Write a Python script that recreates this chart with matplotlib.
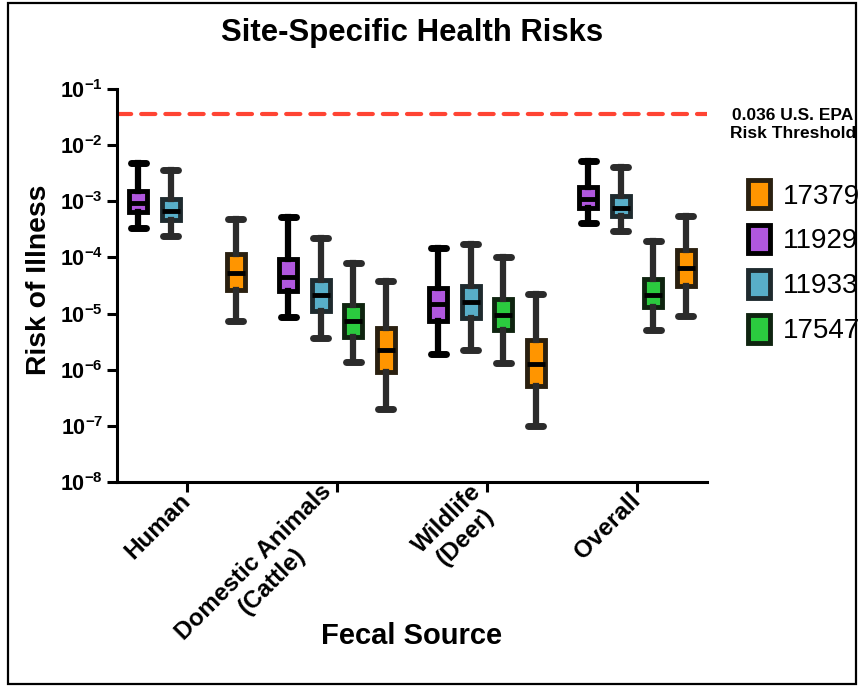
import matplotlib
matplotlib.use("Agg")
import matplotlib.pyplot as plt
import numpy as np
from matplotlib.patches import Patch, Rectangle
from matplotlib.ticker import NullLocator

plt.rcParams["font.family"] = ["Liberation Sans", "DejaVu Sans"]
plt.rcParams["mathtext.fontset"] = "custom"
plt.rcParams["mathtext.rm"] = "Liberation Sans"
plt.rcParams["mathtext.bf"] = "Liberation Sans:bold"

#%% Data: low whisker, q1, median, q3, high whisker
categories = ["Human", "Domestic Animals\n(Cattle)", "Wildlife\n(Deer)", "Overall"]
site_names = ["11929", "11933", "17547", "17379"]  # order inside each group
legend_order = ["17379", "11929", "11933", "17547"]

risk_11929 = [
    [3.4e-4, 6.4e-4, 9.2e-4, 1.5e-3, 4.9e-3],
    [8.6e-6, 2.5e-5, 4.5e-5, 9.2e-5, 5.2e-4],
    [1.9e-6, 7.4e-6, 1.5e-5, 2.9e-5, 1.45e-4],
    [4.1e-4, 7.6e-4, 1.08e-3, 1.8e-3, 5.3e-3],
]
risk_11933 = [
    [2.4e-4, 4.7e-4, 6.7e-4, 1.08e-3, 3.6e-3],
    [3.7e-6, 1.1e-5, 2.1e-5, 4.0e-5, 2.2e-4],
    [2.2e-6, 8.3e-6, 1.6e-5, 3.1e-5, 1.7e-4],
    [3.0e-4, 5.5e-4, 7.7e-4, 1.24e-3, 4.0e-3],
]
risk_17547 = [
    None,
    [1.36e-6, 3.9e-6, 7.5e-6, 1.45e-5, 7.9e-5],
    [1.3e-6, 5.0e-6, 9.4e-6, 1.8e-5, 1.0e-4],
    [5.1e-6, 1.3e-5, 2.1e-5, 4.1e-5, 2.0e-4],
]
risk_17379 = [
    [7.5e-6, 2.6e-5, 5.3e-5, 1.15e-4, 4.8e-4],
    [2.0e-7, 9.1e-7, 2.2e-6, 5.5e-6, 3.8e-5],
    [1.0e-7, 5.1e-7, 1.26e-6, 3.4e-6, 2.2e-5],
    [9.1e-6, 3.1e-5, 6.4e-5, 1.36e-4, 5.5e-4],
]
epa_threshold = 0.036

#%% Styles
fills = {"11929": "#B057DE", "11933": "#58AEC8", "17547": "#2BCB3F", "17379": "#FF9500"}
edges = {"11929": "#000000", "11933": "#1E2A2E", "17547": "#0F2410", "17379": "#2A2010"}
lines = {"11929": "#000000", "11933": "#2B2B2B", "17547": "#2B2B2B", "17379": "#2B2B2B"}
offsets = [-0.325, -0.108, 0.108, 0.325]
series = dict(zip(site_names, [risk_11929, risk_11933, risk_17547, risk_17379]))

fig = plt.figure(figsize=(8.63, 6.87), dpi=100)
ax = fig.add_axes([117 / 863, 1 - 482 / 687, 590 / 863, 393 / 687])

for name, off in zip(site_names, offsets):
    stats, pos = [], []
    for i, row in enumerate(series[name]):
        if row is None:
            continue
        lo, q1, med, q3, hi = row
        stats.append(dict(whislo=lo, q1=q1, med=med, q3=q3, whishi=hi, fliers=[]))
        pos.append(i + 1 + off)
    ax.bxp(
        stats, positions=pos, widths=0.12, patch_artist=True, showfliers=False,
        capwidths=0.1,
        boxprops=dict(facecolor=fills[name], edgecolor=edges[name], linewidth=3.5),
        medianprops=dict(color="black", linewidth=3.5, solid_capstyle="butt"),
        whiskerprops=dict(color=lines[name], linewidth=4.5),
        capprops=dict(color=lines[name], linewidth=5, solid_capstyle="round"),
    )

ax.axhline(epa_threshold, color="#FF4433", linestyle=(0, (3.4, 2.4)), linewidth=3,
           dash_capstyle="round", zorder=1)

ax.set_yscale("log")
ax.set_ylim(1e-8, 1e-1)
yt = 10.0 ** np.arange(-8, 0)
ax.set_yticks(yt)
ax.set_yticklabels([r"$\mathbf{10^{%d}}$" % e for e in range(-8, 0)], fontsize=15.5)
ax.yaxis.set_minor_locator(NullLocator())

ax.set_xlim(0.533, 4.467)
ax.set_xticks(np.arange(1, len(categories) + 1))
ax.set_xticklabels(categories, rotation=45, ha="right", va="center", rotation_mode="anchor",
                   fontsize=17.5, fontweight="bold", multialignment="center")

for s in ["top", "right"]:
    ax.spines[s].set_visible(False)
for s in ["left", "bottom"]:
    ax.spines[s].set_linewidth(2.2)
ax.tick_params(axis="both", width=2.2, length=7, direction="out", pad=3)
ax.tick_params(axis="x", pad=4)

ax.set_ylabel("Risk of Illness", fontsize=20.3, fontweight="bold")
ax.yaxis.set_label_coords(-0.11, 0.514)
ax.set_xlabel("Fecal Source", fontsize=21, fontweight="bold")
ax.xaxis.set_label_coords(0.5, -0.356)

fig.text(412 / 863, 1 - 33 / 687, "Site-Specific Health Risks", fontsize=22.4,
         fontweight="bold", ha="center", va="center")
fig.text(793 / 863, 1 - 124 / 687, "0.036 U.S. EPA\nRisk Threshold", fontsize=12.5,
         fontweight="bold", ha="center", va="center", linespacing=1.25)

handles = [Patch(facecolor=fills[n], edgecolor=edges[n], linewidth=3.5) for n in legend_order]
fig.legend(handles, legend_order, loc="upper left", bbox_to_anchor=(748 / 863, 1 - 180 / 687),
           frameon=False, fontsize=20, handlelength=0.8, handleheight=1.2,
           handletextpad=0.45, labelspacing=0.55, borderpad=0, borderaxespad=0)

fig.add_artist(Rectangle((8 / 863, 3 / 687), 848 / 863, 681 / 687, transform=fig.transFigure,
                         fill=False, edgecolor="black", linewidth=1.6))

fig.savefig("out.png", dpi=100)
